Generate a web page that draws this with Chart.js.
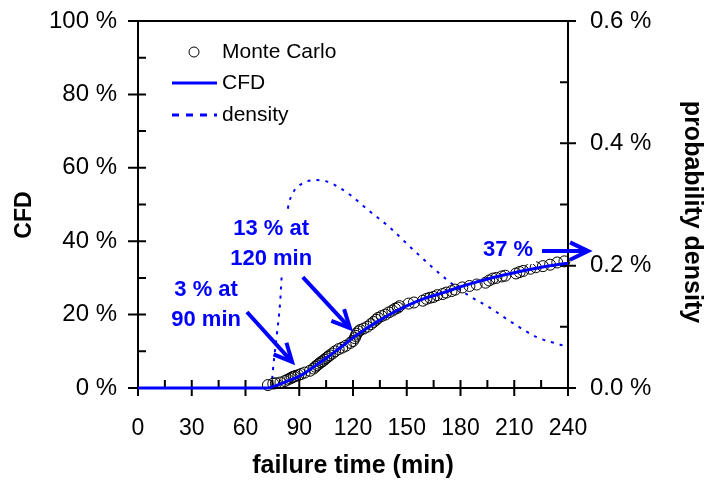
<!DOCTYPE html>
<html><head><meta charset="utf-8">
<script src="https://cdn.jsdelivr.net/npm/chart.js@4.4.0/dist/chart.umd.min.js"></script>
<style>html,body{margin:0;padding:0;background:#fff}</style>
</head><body>
<canvas id="c" width="710" height="480"></canvas>
<script>
// ---- data ----
const cfdTime  = [0, 72, 75, 80, 85, 90, 95, 100, 105, 110, 115, 120, 125, 130, 135, 140, 145, 150, 160, 170, 180, 190, 200, 210, 220, 230, 240];
const cfdValue = [0, 0, 0.3, 1.2, 2.2, 3.2, 4.7, 6.4, 8.1, 9.9, 11.8, 13.7, 15.4, 17.0, 18.5, 19.9, 21.2, 22.4, 24.4, 25.9, 27.6, 29.0, 30.3, 31.4, 32.4, 33.3, 34.0];

const densityTime  = [74.5, 75.3, 77.6, 79.3, 80.4, 82.0, 83.7, 86.5, 90.4, 98.8, 106.0, 111.6, 118.3, 128.4, 140.7, 151.8, 164.1, 174.1, 184.2, 196.5, 209.3, 222.7, 236.7, 240];
const densityValue = [0, 0.029, 0.090, 0.139, 0.193, 0.250, 0.294, 0.319, 0.332, 0.340, 0.337, 0.329, 0.316, 0.291, 0.262, 0.231, 0.198, 0.173, 0.152, 0.131, 0.106, 0.083, 0.070, 0.067];

const mcTime  = [72.5, 75.5, 77, 79.5, 82, 83.5, 85, 86, 87, 88, 89.5, 91, 93, 96, 98, 99, 100, 101, 102, 103, 104, 105, 106, 107, 108.5, 110, 112, 114, 116, 118.5, 120, 121, 121.5, 122, 123, 124, 126, 128, 130, 131.5, 133, 134, 136, 138, 140, 142, 143.5, 145, 146, 151, 154, 159, 161, 163, 165, 167, 170, 172, 175, 177, 181, 185, 189, 194, 196, 198, 200, 203, 205, 211, 213, 215, 219, 222, 226, 230, 234, 238];
const mcValue = [0.8, 1.2, 1.3, 1.5, 1.9, 2.3, 2.6, 2.9, 3.1, 3.3, 3.5, 3.8, 4.2, 4.7, 5.3, 5.8, 6.2, 6.6, 7.0, 7.3, 7.7, 8.1, 8.5, 8.9, 9.4, 10.0, 10.6, 11.0, 11.5, 12.3, 12.8, 13.6, 14.2, 14.8, 15.4, 15.8, 16.2, 16.7, 17.4, 18.0, 18.6, 19.1, 19.6, 20.0, 20.6, 21.1, 21.6, 21.9, 22.3, 23.0, 23.3, 23.8, 24.3, 24.6, 24.8, 25.3, 25.6, 26.0, 26.4, 26.8, 27.4, 27.8, 28.2, 28.7, 29.3, 29.8, 30.0, 30.4, 30.6, 31.2, 31.6, 31.9, 32.5, 32.9, 33.2, 33.6, 34.2, 34.5];

const xTickValues  = [0, 30, 60, 90, 120, 150, 180, 210, 240];
const yTickValues  = [0, 20, 40, 60, 80, 100];
const y2TickValues = [0, 0.2, 0.4, 0.6];
const legendLabels = ['Monte Carlo', 'CFD', 'density'];
const axisTitles   = {x: 'failure time (min)', y: 'CFD', y2: 'probability density'};

// annotations in data coordinates (time, CFD %)
const noteTexts = [['3 % at', '90 min'], ['13 % at', '120 min'], ['37 %']];
const noteAnchors = [[38, 22.7], [74.3, 39.2], [206.5, 37.6]];
const arrowFrom = [[60.8, 20.7], [92.0, 30.2], [225.5, 37.3]];
const arrowTo   = [[86.0, 7.1], [118.3, 16.3], [251.2, 37.3]];

const BLUE = '#0000ff';
const FONT = "'Liberation Sans', Arial, sans-serif";

const framePlugin = {
  id: 'frame',
  beforeDatasetsDraw(chart) {
    const {ctx, chartArea: a, scales} = chart;
    const x = scales.x, y = scales.y, y2 = scales.y2;
    ctx.save();
    ctx.strokeStyle = '#000';
    ctx.lineWidth = 2;
    ctx.lineCap = 'butt';
    ctx.beginPath();
    ctx.moveTo(a.left, a.top); ctx.lineTo(a.right, a.top);
    ctx.moveTo(a.left, a.top - 1); ctx.lineTo(a.left, a.bottom + 1);
    ctx.moveTo(a.right, a.top - 1); ctx.lineTo(a.right, a.bottom + 1);
    ctx.moveTo(a.left, a.bottom); ctx.lineTo(a.right, a.bottom);
    for (let t = 0; t <= 240; t += 15) {
      const p = x.getPixelForValue(t);
      const major = t % 30 === 0;
      ctx.moveTo(p, a.bottom - 8);
      ctx.lineTo(p, a.bottom + (major ? 8 : 0));
    }
    for (let v = 0; v <= 100; v += 10) {
      const p = y.getPixelForValue(v);
      const major = v % 20 === 0;
      ctx.moveTo(a.left - (major ? 10 : 0), p);
      ctx.lineTo(a.left + 8, p);
    }
    for (let k = 0; k <= 6; k++) {
      const p = y2.getPixelForValue(k / 10);
      const major = k % 2 === 0;
      ctx.moveTo(a.right - 8, p);
      ctx.lineTo(a.right + (major ? 8 : 0), p);
    }
    ctx.stroke();
    ctx.restore();
  },
  afterDraw(chart) {
    const {ctx, chartArea: a, scales} = chart;
    const x = scales.x, y = scales.y;
    ctx.save();
    ctx.fillStyle = '#000';
    ctx.textAlign = 'center';
    ctx.textBaseline = 'middle';
    ctx.font = 'bold 25px ' + FONT;
    ctx.fillText(axisTitles.x, (a.left + a.right) / 2, 466);
    ctx.save();
    ctx.translate(25, 215);
    ctx.rotate(-Math.PI / 2);
    ctx.font = 'bold 23px ' + FONT;
    ctx.fillText(axisTitles.y, 0, 0);
    ctx.restore();
    ctx.save();
    ctx.translate(692, 212);
    ctx.rotate(Math.PI / 2);
    ctx.font = 'bold 25px ' + FONT;
    ctx.fillText(axisTitles.y2, 0, 0);
    ctx.restore();

    // legend
    ctx.textAlign = 'left';
    ctx.font = '21px ' + FONT;
    ctx.fillStyle = '#000';
    const lx = 222, ly = [52, 83, 115];
    ctx.beginPath();
    ctx.strokeStyle = '#000'; ctx.lineWidth = 1;
    ctx.arc(194, ly[0], 5, 0, Math.PI * 2);
    ctx.stroke();
    ctx.strokeStyle = BLUE; ctx.lineWidth = 3;
    ctx.beginPath(); ctx.moveTo(172, ly[1]); ctx.lineTo(217, ly[1]); ctx.stroke();
    ctx.setLineDash([7, 7]);
    ctx.beginPath(); ctx.moveTo(172, ly[2]); ctx.lineTo(217, ly[2]); ctx.stroke();
    ctx.setLineDash([]);
    legendLabels.forEach((s, i) => ctx.fillText(s, lx, ly[i]));

    // annotations
    ctx.font = 'bold 22px ' + FONT;
    ctx.textAlign = 'center';
    ctx.textBaseline = 'middle';
    noteTexts.forEach((lines, i) => {
      const cx = x.getPixelForValue(noteAnchors[i][0]);
      const cy = y.getPixelForValue(noteAnchors[i][1]);
      const lh = 30;
      const y0 = cy - (lines.length - 1) * lh / 2;
      let w = 0;
      lines.forEach(s => { w = Math.max(w, ctx.measureText(s).width); });
      ctx.fillStyle = '#fff';
      ctx.fillRect(cx - w / 2 - 3, y0 - 20, w + 6, (lines.length - 1) * lh + 34);
      ctx.fillStyle = BLUE;
      lines.forEach((s, k) => ctx.fillText(s, cx, y0 + k * lh));
    });
    ctx.strokeStyle = BLUE;
    ctx.lineWidth = 4;
    ctx.lineCap = 'butt';
    ctx.lineJoin = 'miter';
    arrowFrom.forEach((f, i) => {
      const x1 = x.getPixelForValue(f[0]), y1 = y.getPixelForValue(f[1]);
      const x2 = x.getPixelForValue(arrowTo[i][0]), y2p = y.getPixelForValue(arrowTo[i][1]);
      const ang = Math.atan2(y2p - y1, x2 - x1);
      ctx.beginPath();
      ctx.moveTo(x1, y1); ctx.lineTo(x2 - 2 * Math.cos(ang), y2p - 2 * Math.sin(ang));
      ctx.stroke();
      const hl = 20, ha = 0.45;
      ctx.beginPath();
      ctx.moveTo(x2 - hl * Math.cos(ang - ha), y2p - hl * Math.sin(ang - ha));
      ctx.lineTo(x2, y2p);
      ctx.lineTo(x2 - hl * Math.cos(ang + ha), y2p - hl * Math.sin(ang + ha));
      ctx.stroke();
    });
    ctx.restore();
  }
};

function fixV(width) {
  return function (s) { s.width = width; s.paddingTop = 0; s.paddingBottom = 0; };
}

new Chart(document.getElementById('c'), {
  type: 'line',
  data: {
    datasets: [
      {
        label: legendLabels[1],
        data: cfdTime.map((t, i) => ({x: t, y: cfdValue[i]})),
        yAxisID: 'y', borderColor: BLUE, borderWidth: 3, pointRadius: 0,
        cubicInterpolationMode: 'monotone', order: 0, clip: false
      },
      {
        label: legendLabels[0],
        data: mcTime.map((t, i) => ({x: t, y: mcValue[i]})),
        yAxisID: 'y', showLine: false, pointRadius: 5.5, pointBorderWidth: 1,
        pointBorderColor: '#000', pointBackgroundColor: 'rgba(0,0,0,0)', order: 1, clip: false
      },
      {
        label: legendLabels[2],
        data: densityTime.map((t, i) => ({x: t, y: densityValue[i]})),
        yAxisID: 'y2', borderColor: BLUE, borderWidth: 2, borderDash: [3, 6], pointRadius: 0,
        cubicInterpolationMode: 'monotone', order: 2, clip: false
      }
    ]
  },
  options: {
    responsive: false,
    animation: false,
    devicePixelRatio: 1,
    layout: {padding: {top: 21, left: 0, right: 0, bottom: 0}},
    plugins: {legend: {display: false}, tooltip: {enabled: false}},
    scales: {
      x: {
        type: 'linear', min: 0, max: 240,
        afterFit(s) { s.height = 92; s.paddingLeft = 0; s.paddingRight = 0; },
        afterBuildTicks(s) { s.ticks = xTickValues.map(v => ({value: v})); },
        ticks: {color: '#000', font: {family: FONT, size: 23}, padding: 27, maxRotation: 0},
        grid: {display: false, drawTicks: false}, border: {display: false}
      },
      y: {
        type: 'linear', position: 'left', min: 0, max: 100,
        afterFit: fixV(138),
        afterBuildTicks(s) { s.ticks = yTickValues.map(v => ({value: v})); },
        ticks: {color: '#000', font: {family: FONT, size: 24}, padding: 21, callback: v => v + ' %'},
        grid: {display: false, drawTicks: false}, border: {display: false}
      },
      y2: {
        type: 'linear', position: 'right', min: 0, max: 0.6,
        afterFit: fixV(142),
        afterBuildTicks(s) { s.ticks = y2TickValues.map(v => ({value: v})); },
        ticks: {color: '#000', font: {family: FONT, size: 24}, padding: 22, callback: v => v.toFixed(1) + ' %'},
        grid: {display: false, drawTicks: false}, border: {display: false}
      }
    }
  },
  plugins: [framePlugin]
});
</script>
</body></html>
